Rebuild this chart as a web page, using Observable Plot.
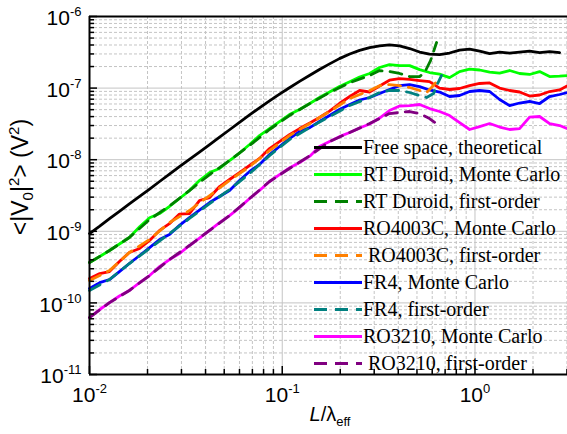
<!DOCTYPE html>
<html><head><meta charset="utf-8">
<script src="https://cdn.jsdelivr.net/npm/d3@7"></script>
<script src="https://cdn.jsdelivr.net/npm/@observablehq/plot@0.6"></script>
<style>body{margin:0;background:#fff} svg{display:block}</style>
</head><body><div id="chart"></div>
<script>
// ---- data ----
const xGrid = [0.01, 0.0113, 0.0127, 0.0143, 0.0161, 0.0182, 0.0205, 0.0231, 0.026, 0.0293, 0.033, 0.0372, 0.042, 0.0473, 0.0533, 0.06, 0.0677, 0.0762, 0.0859, 0.0968, 0.109, 0.123, 0.139, 0.156, 0.176, 0.198, 0.224, 0.252, 0.284, 0.32, 0.36, 0.406, 0.458, 0.516, 0.581, 0.655, 0.738, 0.832, 0.938, 1.057, 1.191, 1.342, 1.512, 1.704, 1.92, 2.164, 2.439, 2.748, 3.02];

const freeSpaceY = [9.31e-10, 1.18e-9, 1.50e-9, 1.90e-9, 2.42e-9, 3.07e-9, 3.89e-9, 4.96e-9, 6.29e-9, 7.98e-9, 1.01e-8, 1.28e-8, 1.63e-8, 2.06e-8, 2.62e-8, 3.33e-8, 4.22e-8, 5.30e-8, 6.62e-8, 8.22e-8, 1.01e-7, 1.24e-7, 1.51e-7, 1.82e-7, 2.18e-7, 2.58e-7, 2.99e-7, 3.37e-7, 3.67e-7, 3.90e-7, 4.01e-7, 3.88e-7, 3.57e-7, 3.19e-7, 2.99e-7, 2.94e-7, 3.09e-7, 3.40e-7, 3.51e-7, 3.29e-7, 3.04e-7, 3.19e-7, 3.09e-7, 3.19e-7, 3.29e-7, 3.14e-7, 3.24e-7, 3.14e-7];

const rtDuroidMC = [3.66e-10, 4.44e-10, 5.39e-10, 6.64e-10, 8.19e-10, 1.16e-9, 1.55e-9, 1.77e-9, 2.22e-9, 2.87e-9, 3.71e-9, 5.12e-9, 6.62e-9, 7.53e-9, 9.74e-9, 1.24e-8, 1.63e-8, 2.17e-8, 2.72e-8, 3.41e-8, 4.27e-8, 5.02e-8, 6.09e-8, 7.39e-8, 8.82e-8, 1.05e-7, 1.23e-7, 1.43e-7, 1.60e-7, 1.94e-7, 2.13e-7, 2.06e-7, 2.06e-7, 1.81e-7, 1.65e-7, 1.57e-7, 1.40e-7, 1.70e-7, 1.84e-7, 1.79e-7, 1.67e-7, 1.62e-7, 1.76e-7, 1.60e-7, 1.55e-7, 1.70e-7, 1.45e-7, 1.47e-7, 1.50e-7];

const ro4003cMC = [2.19e-10, 2.57e-10, 2.74e-10, 3.78e-10, 5.05e-10, 5.75e-10, 7.44e-10, 1.03e-9, 1.28e-9, 1.74e-9, 1.77e-9, 2.69e-9, 2.96e-9, 4.22e-9, 5.29e-9, 6.62e-9, 8.30e-9, 1.04e-8, 1.43e-8, 1.79e-8, 2.24e-8, 2.72e-8, 3.25e-8, 3.88e-8, 4.78e-8, 6.09e-8, 7.63e-8, 9.26e-8, 8.82e-8, 1.07e-7, 1.29e-7, 1.36e-7, 1.32e-7, 1.27e-7, 1.23e-7, 1.00e-7, 9.56e-8, 9.87e-8, 1.08e-7, 1.16e-7, 1.18e-7, 1.00e-7, 9.26e-8, 8.82e-8, 7.75e-8, 8.01e-8, 8.96e-8, 9.41e-8, 1.08e-7];

const fr4MC = [1.59e-10, 1.92e-10, 2.12e-10, 2.74e-10, 3.55e-10, 4.59e-10, 5.93e-10, 7.68e-10, 9.02e-10, 1.21e-9, 1.55e-9, 1.98e-9, 2.52e-9, 3.06e-9, 3.71e-9, 5.12e-9, 6.84e-9, 8.57e-9, 1.18e-8, 1.53e-8, 1.97e-8, 2.47e-8, 2.81e-8, 3.41e-8, 4.14e-8, 5.02e-8, 5.90e-8, 6.82e-8, 7.39e-8, 8.40e-8, 9.56e-8, 1.08e-7, 1.12e-7, 1.05e-7, 9.41e-8, 8.82e-8, 7.63e-8, 7.88e-8, 8.96e-8, 9.26e-8, 8.96e-8, 6.93e-8, 5.71e-8, 6.19e-8, 6.50e-8, 6.09e-8, 7.63e-8, 8.14e-8, 8.68e-8];

const ro3210MC = [6.25e-11, 8.09e-11, 1.01e-10, 1.25e-10, 1.49e-10, 1.92e-10, 2.41e-10, 3.22e-10, 4.03e-10, 4.89e-10, 6.33e-10, 8.06e-10, 1.03e-9, 1.32e-9, 1.66e-9, 2.14e-9, 2.87e-9, 3.71e-9, 4.96e-9, 6.20e-9, 7.65e-9, 9.14e-9, 1.12e-8, 1.53e-8, 1.79e-8, 2.10e-8, 2.40e-8, 2.77e-8, 3.15e-8, 3.82e-8, 4.86e-8, 5.62e-8, 5.71e-8, 5.90e-8, 5.18e-8, 4.71e-8, 4.14e-8, 3.30e-8, 2.64e-8, 2.90e-8, 3.20e-8, 2.86e-8, 2.64e-8, 2.72e-8, 3.94e-8, 4.01e-8, 3.20e-8, 3.00e-8, 2.72e-8];

// first-order approximations (end near L/λ ≈ 0.64)
const rtDuroidFOx = [0.01, 0.0127, 0.0161, 0.0205, 0.026, 0.033, 0.042, 0.0533, 0.0677, 0.0859, 0.109, 0.139, 0.176, 0.224, 0.284, 0.32, 0.36, 0.406, 0.458, 0.516, 0.548, 0.588, 0.632];
const rtDuroidFOy = [3.66e-10, 5.39e-10, 8.19e-10, 1.46e-9, 2.26e-9, 3.71e-9, 6.20e-9, 9.74e-9, 1.58e-8, 2.64e-8, 4.14e-8, 6.09e-8, 8.68e-8, 1.19e-7, 1.50e-7, 1.76e-7, 1.70e-7, 1.60e-7, 1.45e-7, 1.45e-7, 1.65e-7, 2.42e-7, 4.33e-7];

const ro4003cFOx = [0.01, 0.0127, 0.0161, 0.0205, 0.026, 0.033, 0.042, 0.0533, 0.0677, 0.0859, 0.109, 0.139, 0.176, 0.224, 0.284, 0.32, 0.36, 0.406, 0.458, 0.516, 0.561, 0.595, 0.625];
const ro4003cFOy = [2.05e-10, 2.83e-10, 5.05e-10, 7.68e-10, 1.32e-9, 1.95e-9, 3.16e-9, 5.12e-9, 8.04e-9, 1.34e-8, 2.17e-8, 3.20e-8, 4.71e-8, 7.15e-8, 9.26e-8, 1.08e-7, 1.12e-7, 1.08e-7, 1.02e-7, 9.26e-8, 8.68e-8, 1.02e-7, 1.19e-7];

const fr4FOx = [0.01, 0.0127, 0.0161, 0.0205, 0.026, 0.033, 0.042, 0.0533, 0.0677, 0.0859, 0.109, 0.139, 0.176, 0.224, 0.284, 0.32, 0.36, 0.406, 0.458, 0.516, 0.561, 0.610, 0.640, 0.671];
const fr4FOy = [1.49e-10, 2.12e-10, 3.55e-10, 5.75e-10, 9.31e-10, 1.51e-9, 2.43e-9, 3.83e-9, 6.41e-9, 1.14e-8, 1.91e-8, 2.81e-8, 4.01e-8, 5.71e-8, 7.39e-8, 8.68e-8, 9.26e-8, 9.26e-8, 8.68e-8, 7.88e-8, 7.39e-8, 8.40e-8, 1.16e-7, 1.50e-7];

const ro3210FOx = [0.01, 0.0127, 0.0161, 0.0205, 0.026, 0.033, 0.042, 0.0533, 0.0677, 0.0859, 0.109, 0.139, 0.176, 0.224, 0.284, 0.32, 0.36, 0.406, 0.458, 0.516, 0.581, 0.640];
const ro3210FOy = [6.25e-11, 1.01e-10, 1.49e-10, 2.41e-10, 4.03e-10, 6.33e-10, 1.03e-9, 1.66e-9, 2.87e-9, 4.96e-9, 7.53e-9, 1.14e-8, 1.79e-8, 2.40e-8, 3.20e-8, 3.76e-8, 4.41e-8, 4.56e-8, 4.71e-8, 4.41e-8, 3.76e-8, 3.10e-8];

const seriesNames = ["Free space, theoretical", "RT Duroid, Monte Carlo", "RT Duroid, first-order", "RO4003C, Monte Carlo", " RO4003C, first-order", "FR4, Monte Carlo", "FR4, first-order", "RO3210, Monte Carlo", " RO3210, first-order"];
const seriesColors = ["#000000", "#00ff00", "#008000", "#ff0000", "#ff8000", "#0000ff", "#008080", "#ff00ff", "#800080"];
const seriesDashed = [false, false, true, false, true, false, true, false, true];

const xMajor = [0.01, 0.1, 1];
const xTickLabels = ["10^-2", "10^-1", "10^0"];
const yMajor = [1e-11, 1e-10, 1e-9, 1e-8, 1e-7, 1e-6];
const yTickLabels = ["10^-11", "10^-10", "10^-9", "10^-8", "10^-7", "10^-6"];

// ---- build ----
const seriesXY = [
  [xGrid, freeSpaceY], [xGrid, rtDuroidMC], [rtDuroidFOx, rtDuroidFOy],
  [xGrid, ro4003cMC], [ro4003cFOx, ro4003cFOy], [xGrid, fr4MC], [fr4FOx, fr4FOy],
  [xGrid, ro3210MC], [ro3210FOx, ro3210FOy]
];
const series = seriesXY.map(([xs, ys], i) => ({
  name: seriesNames[i], color: seriesColors[i], dashed: seriesDashed[i],
  data: ys.map((y, j) => ({x: xs[j], y}))
}));

const xMinor = [];
for (const d of xMajor) for (let k = 2; k <= 9; k++) if (d * k <= 3.02) xMinor.push(d * k);
const yMinor = [];
for (const d of yMajor.slice(0, 5)) for (let k = 2; k <= 9; k++) yMinor.push(d * k);

const gridColor = "#c4c4c4";
const order = [0, 1, 3, 5, 7, 2, 4, 6, 8];
const dash = "12,8";

const chart = Plot.plot({
  width: 567, height: 434,
  marginLeft: 89, marginRight: 0, marginTop: 16, marginBottom: 60,
  x: {type: "log", domain: [0.01, 3.02]},
  y: {type: "log", domain: [1e-11, 1e-6]},
  style: {fontFamily: "'Liberation Sans', Arial, sans-serif", color: "#000", background: "#fff", overflow: "visible"},
  marks: [
    Plot.gridX(xMinor, {stroke: gridColor, strokeOpacity: 1, strokeDasharray: "3,2"}),
    Plot.gridY(yMinor, {stroke: gridColor, strokeOpacity: 1, strokeDasharray: "3,2"}),
    Plot.gridX(xMajor, {stroke: gridColor, strokeOpacity: 1}),
    Plot.gridY(yMajor, {stroke: gridColor, strokeOpacity: 1}),
    ...order.map(i => Plot.line(series[i].data, {
      x: "x", y: "y", stroke: series[i].color, strokeWidth: 2.8,
      strokeDasharray: series[i].dashed ? dash : null, curve: "linear"
    })),
    Plot.ruleX([0.01], {strokeWidth: 2}),
    Plot.ruleY([1e-11], {strokeWidth: 2}),
    Plot.ruleY([1e-6], {strokeWidth: 2}),
    Plot.axisX(xMajor, {tickSize: 8, dy: -8, fill: "none", strokeWidth: 1.5, label: null}),
    Plot.axisX(xMinor, {tickSize: 5, dy: -5, fill: "none", strokeWidth: 1.5, label: null}),
    Plot.axisY(yMajor, {tickSize: 8, dx: 8, fill: "none", strokeWidth: 1.5, label: null}),
    Plot.axisY(yMinor, {tickSize: 5, dx: 5, fill: "none", strokeWidth: 1.5, label: null}),
    Plot.axisX(xMajor, {tickSize: 0, tickPadding: 13, fontSize: 21, label: null,
      tickFormat: d => xTickLabels[xMajor.indexOf(d)]}),
    Plot.axisY(yMajor, {tickSize: 0, tickPadding: 8, fontSize: 21, label: null, dy: 2,
      tickFormat: d => yTickLabels[yMajor.indexOf(d)]})
  ]
});

document.getElementById("chart").appendChild(chart);
const svg = d3.select(chart);

// superscript tick labels
chart.querySelectorAll('g[aria-label="x-axis tick label"] text, g[aria-label="y-axis tick label"] text').forEach(t => {
  const s = t.textContent;
  if (!s.includes("^")) return;
  const [base, exp] = s.split("^");
  t.textContent = "";
  const ns = "http://www.w3.org/2000/svg";
  const a = document.createElementNS(ns, "tspan"); a.textContent = base; t.appendChild(a);
  const b = document.createElementNS(ns, "tspan"); b.textContent = exp;
  b.setAttribute("font-size", "13"); b.setAttribute("dy", "-9"); t.appendChild(b);
});

// x-axis title
const xt = svg.append("text").attr("x", 330).attr("y", 421).attr("text-anchor", "middle")
  .attr("font-family", "'Liberation Sans', Arial, sans-serif").attr("font-size", 20).attr("fill", "#000");
xt.append("tspan").attr("font-style", "italic").text("L");
xt.append("tspan").text("/λ");
xt.append("tspan").attr("font-size", 13).attr("dy", 5).text("eff");

// y-axis title
const yt = svg.append("text").attr("transform", "translate(28,177) rotate(-90)").attr("text-anchor", "middle")
  .attr("font-family", "'Liberation Sans', Arial, sans-serif").attr("font-size", 23).attr("fill", "#000");
yt.append("tspan").text("<|V");
yt.append("tspan").attr("font-size", 15).attr("dy", 5).text("0");
yt.append("tspan").attr("dy", -5).text("|");
yt.append("tspan").attr("font-size", 15).attr("dy", -9).text("2");
yt.append("tspan").attr("dy", 9).text("> (V");
yt.append("tspan").attr("font-size", 15).attr("dy", -9).text("2");
yt.append("tspan").attr("dy", 9).text(")");

// legend
const lg = svg.append("g").attr("font-family", "'Liberation Serif', 'Times New Roman', serif")
  .attr("font-size", 20).attr("text-anchor", "start");
series.forEach((s, i) => {
  const y = 147.5 + 27 * i;
  lg.append("line").attr("x1", 314).attr("x2", 362).attr("y1", y).attr("y2", y)
    .attr("stroke", s.color).attr("stroke-width", 3)
    .attr("stroke-dasharray", s.dashed ? "13,8" : null);
  lg.append("text").attr("x", 363).attr("y", y + 6).attr("fill", "#000").attr("text-anchor", "start")
    .style("white-space", "pre").text(s.name);
});
</script>
</body></html>
